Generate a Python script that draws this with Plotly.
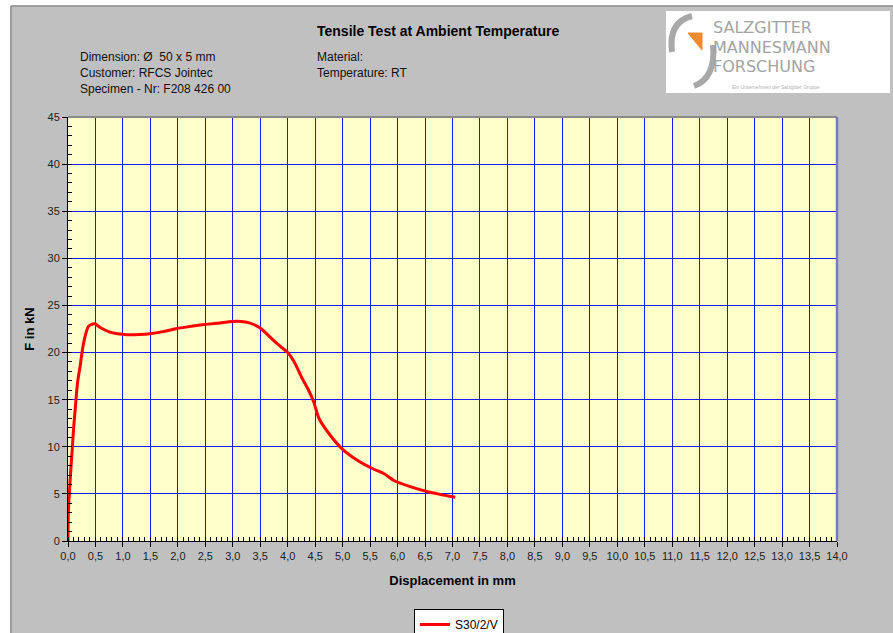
import plotly.graph_objects as go

# ---- data ----
displacement_mm = [0.0, 0.005, 0.024, 0.055, 0.08, 0.10, 0.13, 0.16, 0.18, 0.22, 0.26, 0.31, 0.37,
                   0.43, 0.49, 0.60, 0.75, 0.90, 1.07, 1.30, 1.49, 1.75, 1.98, 2.20, 2.45, 2.70,
                   3.00, 3.15, 3.30, 3.50, 3.74, 3.90, 4.00, 4.12, 4.25, 4.38, 4.47, 4.57, 4.77,
                   4.98, 5.26, 5.56, 5.74, 5.95, 6.23, 6.50, 6.77, 7.05]
force_kN = [0.0, 2.9, 5.06, 7.9, 10.0, 11.8, 13.9, 16.0, 17.1, 18.5, 20.2, 21.7, 22.75,
            23.0, 23.05, 22.6, 22.2, 22.0, 21.9, 21.92, 22.0, 22.25, 22.55, 22.75, 22.95, 23.1,
            23.3, 23.3, 23.15, 22.6, 21.3, 20.5, 20.0, 19.0, 17.4, 16.0, 14.8, 13.0, 11.25,
            9.84, 8.6, 7.64, 7.19, 6.37, 5.77, 5.3, 4.95, 4.64]
series_name = "S30/2/V"

x_ticks = [i * 0.5 for i in range(29)]
x_tick_labels = [f"{v:.1f}".replace(".", ",") for v in x_ticks]
y_ticks = list(range(0, 50, 5))

title_text = "Tensile Test at Ambient Temperature"
info_left = ["Dimension: Ø  50 x 5 mm", "Customer: RFCS Jointec", "Specimen - Nr: F208 426 00"]
info_right = ["Material:", "Temperature: RT"]
logo_lines = ["SALZGITTER", "MANNESMANN", "FORSCHUNG"]
logo_small = "Ein Unternehmen der Salzgitter Gruppe"

# ---- geometry helpers (pixel -> paper) ----
W, H = 893, 633
L, R, T, B = 68, 56, 117, 92
PW, PH = W - L - R, H - T - B


def px(x):
    return (x - L) / PW


def py(y):
    return (H - B - y) / PH


fig = go.Figure()
fig.add_trace(go.Scatter(
    x=displacement_mm, y=force_kN, mode="lines", name=series_name,
    line=dict(color="#ff0000", width=3, shape="spline", smoothing=0.6),
))

shapes = []
# white outer strips + darker border of the grey frame
shapes.append(dict(type="rect", xref="paper", yref="paper", x0=px(0), x1=px(10.5), y0=py(H), y1=py(0),
                   fillcolor="white", line=dict(width=0), layer="below"))
shapes.append(dict(type="rect", xref="paper", yref="paper", x0=px(0), x1=px(W), y0=py(5.5), y1=py(0),
                   fillcolor="white", line=dict(width=0), layer="below"))
shapes.append(dict(type="line", xref="paper", yref="paper", x0=px(11), x1=px(11), y0=py(H), y1=py(6),
                   line=dict(color="#8c8c8c", width=1.5)))
shapes.append(dict(type="line", xref="paper", yref="paper", x0=px(11), x1=px(W), y0=py(6), y1=py(6),
                   line=dict(color="#8c8c8c", width=1.5)))
# plot frame top / right
shapes.append(dict(type="line", xref="paper", yref="paper", x0=0, x1=1, y0=1, y1=1,
                   line=dict(color="#8a8a8a", width=2)))
shapes.append(dict(type="line", xref="paper", yref="paper", x0=1, x1=1, y0=0, y1=1,
                   line=dict(color="#7878c8", width=2.5)))
# logo box
shapes.append(dict(type="rect", xref="paper", yref="paper", x0=px(666), x1=px(890), y0=py(93), y1=py(11),
                   fillcolor="white", line=dict(width=0)))


def path_px(pts):
    s = "M %f,%f" % (px(pts[0][0]), py(pts[0][1]))
    for p in pts[1:]:
        s += " L %f,%f" % (px(p[0]), py(p[1]))
    return s


# logo arcs (grey) and orange wedge
shapes.append(dict(type="path", xref="paper", yref="paper",
                   path="M %f,%f Q %f,%f %f,%f" % (px(692), py(16), px(668), py(22), px(672), py(52)),
                   line=dict(color="#a8a8a8", width=6)))
shapes.append(dict(type="path", xref="paper", yref="paper",
                   path="M %f,%f Q %f,%f %f,%f" % (px(713), py(45), px(716), py(78), px(694), py(86)),
                   line=dict(color="#a8a8a8", width=6)))
shapes.append(dict(type="path", xref="paper", yref="paper",
                   path=path_px([(688, 33), (702, 33), (702, 50)]) + " Z",
                   fillcolor="#f08a30", line=dict(color="#f08a30", width=1)))

annotations = []
annotations.append(dict(text="<b>%s</b>" % title_text, xref="paper", yref="paper", x=px(438), y=py(31),
                        xanchor="center", yanchor="middle", showarrow=False,
                        font=dict(family="Liberation Sans, Arial", size=14, color="black")))
for i, t in enumerate(info_left):
    annotations.append(dict(text=t, xref="paper", yref="paper", x=px(78), y=py(57 + 16 * i),
                            xanchor="left", yanchor="middle", showarrow=False,
                            font=dict(family="Liberation Sans, Arial", size=12, color="#111")))
for i, t in enumerate(info_right):
    annotations.append(dict(text=t, xref="paper", yref="paper", x=px(315), y=py(57 + 16 * i),
                            xanchor="left", yanchor="middle", showarrow=False,
                            font=dict(family="Liberation Sans, Arial", size=12, color="#111")))
for i, t in enumerate(logo_lines):
    annotations.append(dict(text=t, xref="paper", yref="paper", x=px(711), y=py(28 + 19 * i),
                            xanchor="left", yanchor="middle", showarrow=False,
                            font=dict(family="DejaVu Sans", size=16, color="#a3a3a3")))
annotations.append(dict(text=logo_small, xref="paper", yref="paper", x=px(730), y=py(87),
                        xanchor="left", yanchor="middle", showarrow=False,
                        font=dict(family="Liberation Sans, Arial", size=5, color="#b0b0b0")))

axis_font = dict(family="Liberation Sans, Arial", size=11, color="#222")

fig.update_layout(
    width=W, height=H,
    margin=dict(l=L, r=R, t=T, b=B, pad=0, autoexpand=False),
    paper_bgcolor="#c0c0c0",
    plot_bgcolor="#ffffcc",
    separators=",.",
    showlegend=True,
    legend=dict(x=px(414), y=py(609), xanchor="left", yanchor="top",
                bgcolor="white", bordercolor="black", borderwidth=1,
                font=dict(family="Liberation Sans, Arial", size=12, color="black"),
                itemwidth=30, tracegroupgap=0),
    shapes=shapes,
    annotations=annotations,
    xaxis=dict(
        range=[0, 14], tickmode="array", tickvals=x_ticks, ticktext=x_tick_labels,
        showgrid=True, gridcolor="#1a1aff", gridwidth=1, zeroline=False,
        showline=True, linecolor="black", linewidth=1,
        ticks="outside", ticklen=5, tickcolor="black", tickfont=axis_font,
        minor=dict(dtick=0.1, ticks="inside", ticklen=4, tickcolor="black", showgrid=False),
        title=dict(text="<b>Displacement in mm</b>", standoff=14,
                   font=dict(family="Liberation Sans, Arial", size=13, color="black")),
        fixedrange=True,
    ),
    yaxis=dict(
        range=[0, 45], tickmode="array", tickvals=y_ticks,
        showgrid=True, gridcolor="#1a1aff", gridwidth=1, zeroline=False,
        showline=True, linecolor="black", linewidth=1,
        ticks="outside", ticklen=5, tickcolor="black", tickfont=axis_font,
        minor=dict(dtick=1, ticks="inside", ticklen=4, tickcolor="black", showgrid=False),
        title=dict(text="<b>F in kN</b>", standoff=9,
                   font=dict(family="Liberation Sans, Arial", size=13, color="black")),
        fixedrange=True,
    ),
)

fig.write_html("out.html",
               config={"displayModeBar": False},
               post_script="document.body.style.margin='0';document.body.style.padding='0';"
                           "document.body.style.overflow='hidden';")
